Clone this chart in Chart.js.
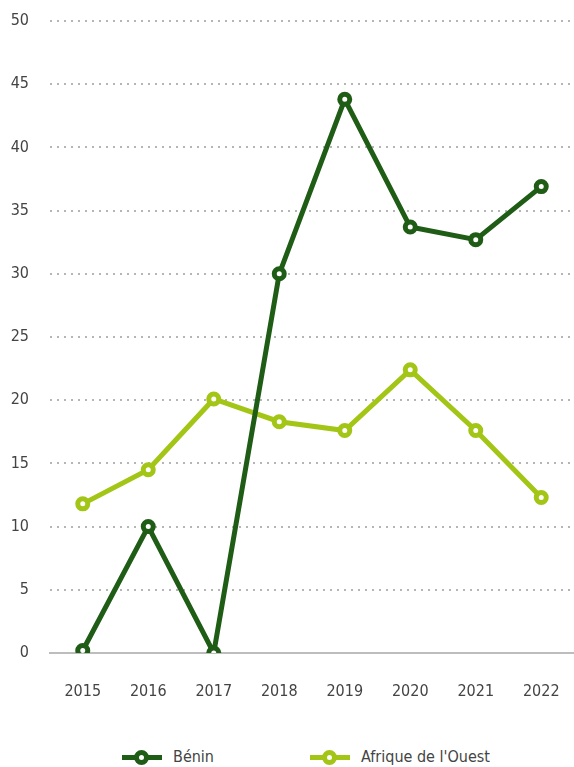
<!DOCTYPE html>
<html>
<head>
<meta charset="utf-8">
<script src="https://cdn.jsdelivr.net/npm/chart.js@4"></script>
<style>
  html, body { margin: 0; padding: 0; background: #fff; overflow: hidden; }
  #wrap { position: relative; width: 574px; height: 767px; overflow: hidden; }
  #box { position: absolute; left: 0; top: 0; width: 574px; height: 720px; }
  #legend { position: absolute; left: 0; top: 746px; width: 574px; height: 21px;
            font-family: "DejaVu Sans Condensed", "Liberation Sans Narrow", sans-serif;
            font-size: 16px; color: #444; }
  .item { position: absolute; top: 0; height: 21px; line-height: 21px; }
  .icon { position: absolute; top: 9px; width: 40px; height: 5px; }
  .dot { position: absolute; left: 12px; top: -5px; width: 5px; height: 5px;
         border-radius: 50%; background: #fff; border-style: solid; border-width: 5px; }
  .lbl { position: absolute; left: 51px; white-space: nowrap; }
</style>
</head>
<body>
<div id="wrap">
  <div id="box"><canvas id="lineChart"></canvas></div>
  <div id="legend"></div>
</div>
<script>
// Données
const years = ['2015', '2016', '2017', '2018', '2019', '2020', '2021', '2022'];
const benin = [0.2, 10, 0, 30, 43.8, 33.7, 32.7, 36.9];
const afriqueOuest = [11.8, 14.5, 20.1, 18.3, 17.6, 22.4, 17.6, 12.3];
const seriesNames = ['Bénin', "Afrique de l'Ouest"];
const seriesColors = ['#1f5c15', '#a2c516'];

const font = "'DejaVu Sans Condensed', 'Liberation Sans Narrow', sans-serif";
const clear = 'rgba(0,0,0,0)';

function makeDataset(label, data, color) {
    return {
        label: label,
        data: data,
        borderColor: color,
        backgroundColor: '#fff',
        borderWidth: 5,
        pointRadius: 5,
        pointHoverRadius: 5,
        pointBorderWidth: 5,
        pointBackgroundColor: '#fff',
        pointBorderColor: color,
        tension: 0,
        fill: false
    };
}

const ctx = document.getElementById('lineChart').getContext('2d');
const chart = new Chart(ctx, {
    type: 'line',
    data: {
        labels: years,
        datasets: [
            makeDataset(seriesNames[0], benin, seriesColors[0]),
            makeDataset(seriesNames[1], afriqueOuest, seriesColors[1])
        ]
    },
    options: {
        responsive: true,
        maintainAspectRatio: false,
        animation: false,
        layout: { autoPadding: false, padding: { top: 21, right: 0, left: 0, bottom: 0 } },
        plugins: {
            legend: { display: false },
            tooltip: { enabled: false }
        },
        scales: {
            x: {
                offset: true,
                // ticks invisibles : servent seulement à décaler les libellés
                grid: { display: true, color: clear, tickColor: clear, drawTicks: true, tickLength: 29 },
                border: { display: true, color: '#bdbdbd', width: 2 },
                ticks: { color: '#444', padding: 0, font: { family: font, size: 16 } },
                afterFit: scale => { scale.height = 67; }
            },
            y: {
                min: 0,
                max: 50,
                ticks: { stepSize: 5, color: '#444', padding: 0, font: { family: font, size: 16 } },
                grid: {
                    drawTicks: true,
                    tickLength: 21,
                    tickColor: clear,
                    lineWidth: 2,
                    color: c => c.tick && c.tick.value === 0 ? clear : '#b5b5b5',
                    borderDash: [2, 5]
                },
                border: { display: false, dash: [2, 5] },
                afterFit: scale => { scale.width = 50; }
            }
        }
    }
});

// Légende en bas
const legend = document.getElementById('legend');
const legendLeft = [122, 310];
seriesNames.forEach((name, i) => {
    const item = document.createElement('div');
    item.className = 'item';
    item.style.left = legendLeft[i] + 'px';
    item.innerHTML = '<div class="icon" style="background:' + seriesColors[i] + '">' +
        '<div class="dot" style="border-color:' + seriesColors[i] + '"></div></div>' +
        '<span class="lbl">' + name + '</span>';
    legend.appendChild(item);
});
</script>
</body>
</html>
